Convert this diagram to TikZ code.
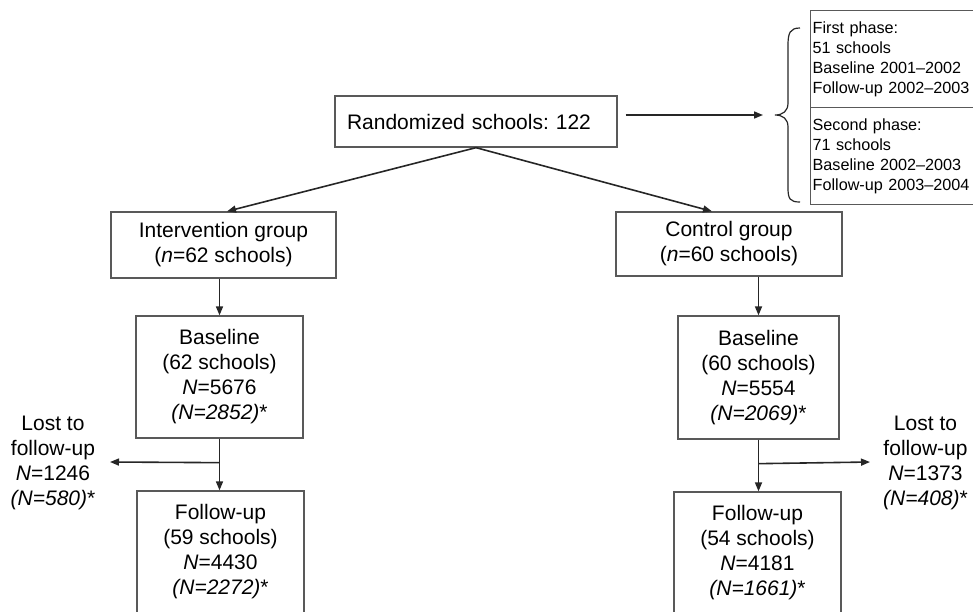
\documentclass[tikz,border=0pt]{standalone}
\usepackage{fontspec}
\setmainfont{Liberation Sans}
\usetikzlibrary{arrows.meta,calc}
\frenchspacing
\begin{document}
\begin{tikzpicture}[x=1pt,y=-1pt,
  box/.style={draw=black!65, line width=1.3pt, align=center, inner sep=0pt, font=\fontsize{21}{25}\selectfont},
  conn/.style={draw=black!85, line width=1.6pt, -{Triangle[length=9pt,width=7pt]}},
  lbl/.style={align=center, inner sep=0pt, font=\fontsize{21}{25}\selectfont},
  phase/.style={draw=black!65, line width=1.3pt, anchor=north west, minimum height=97pt, text width=220pt, inner xsep=2pt, inner ysep=0pt, align=left, font=\fontsize{16.2}{20}\selectfont}
]
\useasboundingbox (0,0) rectangle (973,611);
\clip (0,0) rectangle (973,611);

% nodes
\node[box, minimum width=282pt, minimum height=51pt, text width=258pt, align=left] (rand) at (476,121.5) {Randomized schools: 122};
\node[phase] (ph1) at (810,10) {First phase:\\51 schools\\Baseline 2001–2002\\Follow-up 2002–2003};
\node[phase] (ph2) at (810,107) {Second phase:\\71 schools\\Baseline 2002–2003\\Follow-up 2003–2004};

\node[box, minimum width=225pt, minimum height=66pt] (int) at (223.5,245) {Intervention group\\(\textit{n}=62 schools)};
\node[box, minimum width=226pt, minimum height=64pt] (ctrl) at (729,244) {Control group\\(\textit{n}=60 schools)};

\node[box, minimum width=167pt, minimum height=122pt] (bL) at (219.5,377) {Baseline\\(62 schools)\\\textit{N}=5676\\\textit{(N=2852)}*};
\node[box, minimum width=161pt, minimum height=123pt] (bR) at (758.5,377.5) {Baseline\\(60 schools)\\\textit{N}=5554\\\textit{(N=2069)}*};

\node[box, minimum width=167pt, minimum height=122pt] (fL) at (220.5,552) {Follow-up\\(59 schools)\\\textit{N}=4430\\\textit{(N=2272)}*};
\node[box, minimum width=167pt, minimum height=122pt] (fR) at (757.5,553) {Follow-up\\(54 schools)\\\textit{N}=4181\\\textit{(N=1661)}*};

\node[lbl] (lostL) at (53,462.5) {Lost to\\follow-up\\\textit{N}=1246\\\textit{(N=580)}*};
\node[lbl] (lostR) at (925.5,463) {Lost to\\follow-up\\\textit{N}=1373\\\textit{(N=408)}*};

% brace
\coordinate (bracetip) at (775,115);
\draw[draw=black!85, line width=1.2pt]
  (800,28) .. controls (790,28) and (788,33) .. (788,45) -- (788,103)
  .. controls (788,111) and (783,115) .. (bracetip)
  .. controls (783,115) and (788,119) .. (788,127) -- (788,188)
  .. controls (788,199) and (790,202) .. (800,202);

% connectors
\draw[conn] ($(rand.east)+(8,-6.5)$) -- ([xshift=-12pt]bracetip);
\draw[conn] (rand.south) -- ([xshift=3.5pt]int.north);
\draw[conn] (rand.south) -- ([xshift=-17pt]ctrl.north);
\draw[conn] (int.south -| bL.north) -- (bL.north);
\draw[conn] (ctrl.south -| bR.north) -- (bR.north);

\draw[conn] (bL.south) -- (bL.south |- fL.north);
\draw[conn] (bR.south) -- (bR.south |- fR.north);

\path (bL.south) ++(0,24) coordinate (jL);
\path (bR.south) ++(0,24) coordinate (jR);
\coordinate (tipL) at (110,462);
\coordinate (tipR) at (870,462);
\draw[conn] (jL) -- (tipL);
\draw[conn] (jR) -- (tipR);
\end{tikzpicture}
\end{document}
